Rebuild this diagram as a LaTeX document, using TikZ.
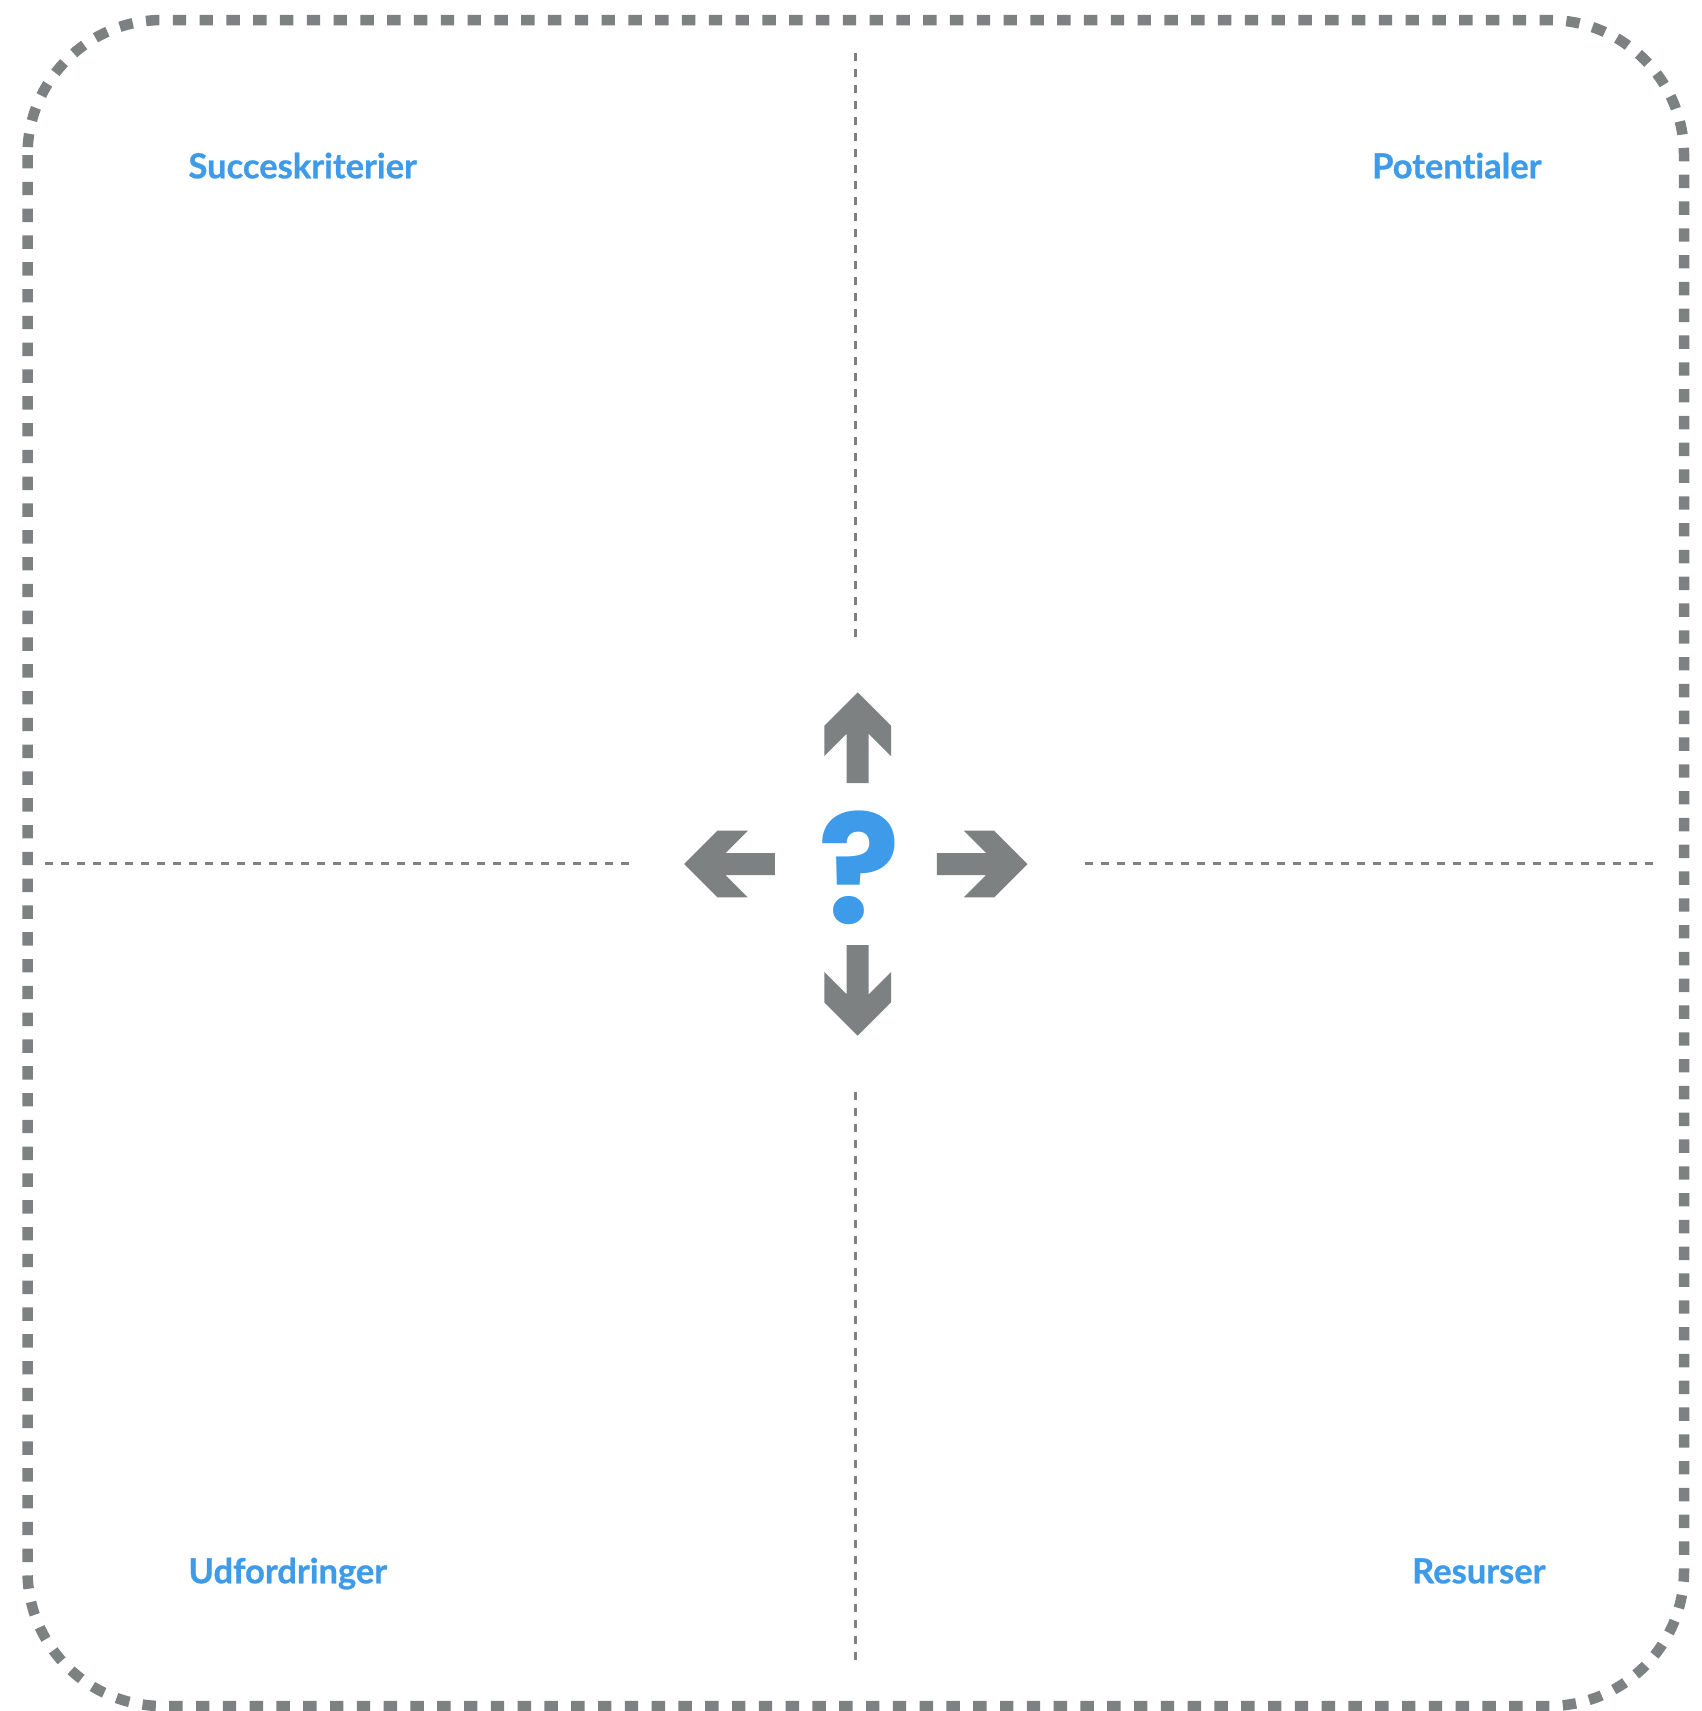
\documentclass[tikz,border=0pt]{standalone}
\usepackage{fontspec}
\newfontfamily\labelfont{Lato}[Ligatures=NoCommon,BoldFeatures={FakeBold=0.8}]
\newfontfamily\qfont{Poppins}
\definecolor{framegray}{HTML}{7E8181}
\definecolor{labelblue}{HTML}{3D9BE9}
\begin{document}
\begin{tikzpicture}[x=1pt,y=-1pt,
  frame/.style={draw=framegray,line width=10.5pt,dash pattern=on 13.4pt off 13.4pt,line cap=butt},
  divider/.style={draw=framegray,line width=2.4pt,dash pattern=on 8pt off 8pt},
  quad/.style={text=labelblue,inner sep=0pt,font=\labelfont\bfseries\fontsize{34.5}{40}\selectfont},
  arrowshape/.style={fill=framegray,draw=none}]
\useasboundingbox (0,0) rectangle (1701,1711);
% outer dashed rounded frame
\draw[frame,rounded corners=135pt] (27.5,20) rectangle (1684,1706);
% dividers
\draw[divider] (45,863.3) -- (630,863.3);
\draw[divider] (1084.6,863.3) -- (1653,863.3);
\draw[divider] (855.5,53.3) -- (855.5,637);
\draw[divider] (855.5,1092) -- (855.5,1661);
% arrows
\foreach \ang/\cx in {0/857.7,180/857.7,90/855.8,270/855.8}{
  \begin{scope}[shift={(\cx,864)},rotate=\ang]
    \fill[arrowshape] (0,-171.7) -- (33.3,-138.4) -- (33.3,-108) -- (11,-130.3) -- (11,-81) -- (-11,-81) -- (-11,-130.3) -- (-33.3,-108) -- (-33.3,-138.4) -- cycle;
  \end{scope}
}
% question mark
\node[text=labelblue,inner sep=0pt,anchor=base,font=\qfont\bfseries\fontsize{152}{154}\selectfont] (q) at (859,923) {?};
% quadrant labels
\node[quad,anchor=base west] (succ) at (188.3,178.3) {Succeskriterier};
\node[quad,anchor=base east] (pot) at (1541.7,178.3) {Potentialer};
\node[quad,anchor=base west] (udf) at (188.3,1583.3) {Udfordringer};
\node[quad,anchor=base east] (res) at (1545.7,1583.3) {Resurser};
\end{tikzpicture}
\end{document}
